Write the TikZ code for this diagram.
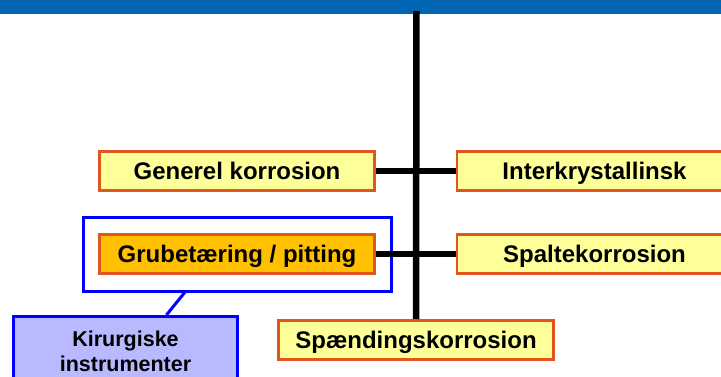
\documentclass[tikz,border=0pt]{standalone}
\usepackage{fontspec}
\setmainfont{Liberation Sans}
\usepackage{xcolor}
\usetikzlibrary{calc}

\definecolor{bandblue}{HTML}{0066B3}
\definecolor{rimorange}{HTML}{E0561E}
\definecolor{paleyellow}{HTML}{FFFF99}
\definecolor{pitorange}{HTML}{FFC000}
\definecolor{lilac}{HTML}{B9B9FF}

\begin{document}
\begin{tikzpicture}[x=1pt,y=-1pt,
	kind/.style={draw=rimorange, line width=2.7pt, fill=paleyellow, inner sep=0pt,
		minimum width=275.3pt, minimum height=39.3pt, text height=17.2pt, text depth=0pt,
		font=\bfseries\fontsize{24}{28}\selectfont},
	ramme/.style={draw=blue, line width=3pt, inner sep=0pt, minimum width=308.3pt, minimum height=73pt},
	tool/.style={draw=blue, line width=3.5pt, fill=lilac, inner sep=0pt, align=center,
		minimum width=224pt, minimum height=70pt, font=\bfseries\fontsize{21.5}{25}\selectfont},
	stem/.style={line width=6.5pt}]
		\useasboundingbox (0,0) rectangle (721,377);
		\clip (0,0) rectangle (721,377);
		% Draw the title band
		\fill[bandblue] (0,0) rectangle (721,14);
		\coordinate (top) at (416.5,11);
		% Nodes for the kinds of corrosion
		\node[kind] (generel) at (237,171) {Generel korrosion};
		\node[kind, fill=pitorange] (grube) at (237,254) {Grubetæring / pitting};
		\node[kind] (inter) at (594.5,171) {Interkrystallinsk};
		\node[kind] (spalte) at (594.5,254) {Spaltekorrosion};
		\node[kind] (spaend) at (416,340) {Spændingskorrosion};
		% Frame round pitting and its example
		\node[ramme] (frame) at (237.6,254.5) {};
		\node[tool] (kirurg) at (125.5,351.7) {Kirurgiske\\instrumenter};
		\draw[blue, line width=3pt] ($(frame.south west)!0.33!(frame.south east)$) -- ($(kirurg.north west)!0.68!(kirurg.north east)$);
		% Draw the tree lines
		\draw[stem] (top) -- (spaend.north);
		\draw[stem] (generel.east) -- (inter.west);
		\draw[stem] (grube.east) -- (spalte.west);
\end{tikzpicture}
\end{document}
